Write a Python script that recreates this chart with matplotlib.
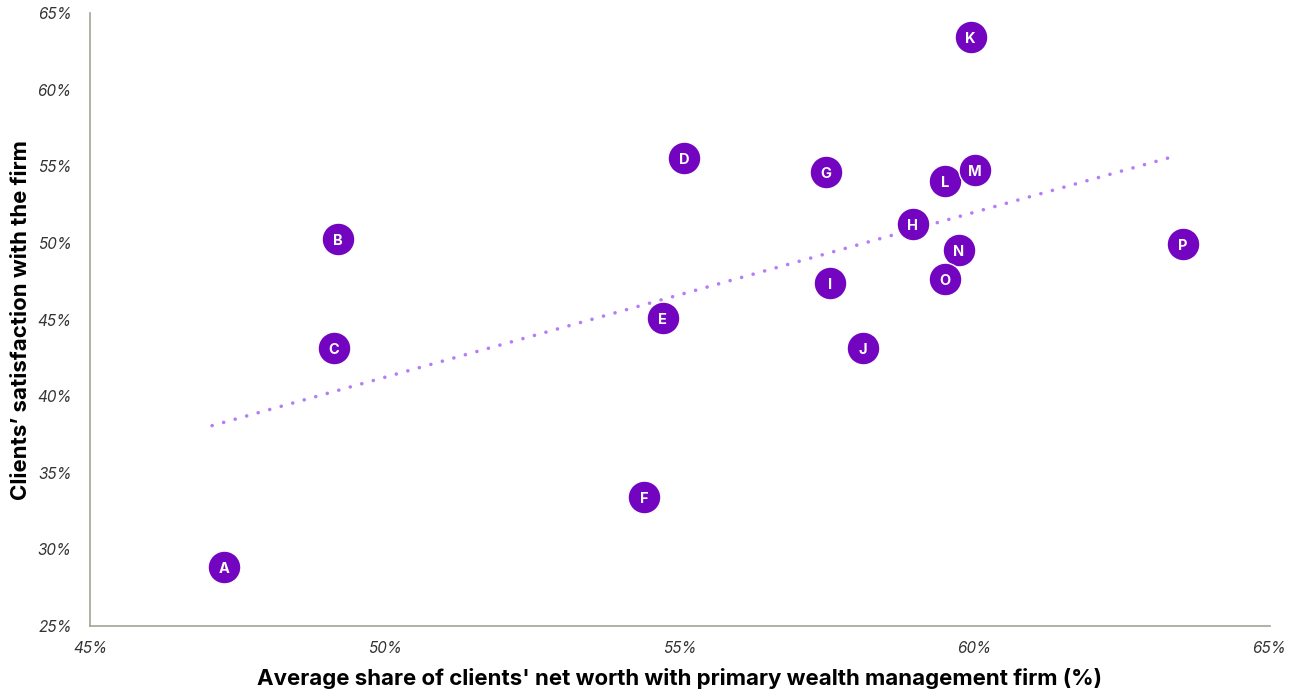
import numpy as np
import matplotlib.pyplot as plt
from matplotlib.ticker import FuncFormatter

# firms and their positions (share of net worth %, satisfaction %)
labels = ['A', 'B', 'C', 'D', 'E', 'F', 'G', 'H', 'I', 'J', 'K', 'L', 'M', 'N', 'O', 'P']
share = [47.27, 49.2, 49.14, 55.07, 54.71, 54.39, 57.47, 58.95, 57.54, 58.1,
         59.93, 59.49, 60.0, 59.73, 59.49, 63.53]
satisfaction = [28.85, 50.25, 43.13, 55.53, 45.09, 33.41, 54.62, 51.22, 47.37, 43.13,
                63.42, 54.03, 54.75, 49.53, 47.64, 49.92]

plt.rcParams['font.family'] = ['Inter', 'DejaVu Sans']

fig = plt.figure(figsize=(13.01, 6.94), dpi=100)
ax = fig.add_axes([0.0692, 0.098, 0.9068, 0.883])

# linear trend line across the range of the data
x = np.array(share)
y = np.array(satisfaction)
slope, icpt = np.polyfit(x, y, 1)
xs = np.array([x.min() - 0.2, x.max() - 0.1])
ax.plot(xs, slope * xs + icpt, color='#b57cf7', lw=2.6,
        linestyle=(0, (0.01, 3.3)), dash_capstyle='round', zorder=1)

ax.scatter(share, satisfaction, s=560, color='#7304bf', edgecolors='white',
           linewidths=1, zorder=2)
for lab, sx, sy in zip(labels, share, satisfaction):
    ax.text(sx, sy, lab, color='white', fontsize=10.5, fontweight='bold',
            ha='center', va='center_baseline', zorder=3)

ax.set_xlim(45, 65)
ax.set_ylim(25, 65)
ax.set_xticks(np.arange(45, 66, 5))
ax.set_yticks(np.arange(25, 66, 5))
pct = FuncFormatter(lambda v, p: '%d%%' % v)
ax.xaxis.set_major_formatter(pct)
ax.yaxis.set_major_formatter(pct)
ax.tick_params(length=0, labelsize=11, labelcolor='#333333')
ax.tick_params(axis='x', pad=10.5)
ax.tick_params(axis='y', pad=13)
for t in ax.get_xticklabels() + ax.get_yticklabels():
    t.set_fontstyle('italic')

for side in ['top', 'right']:
    ax.spines[side].set_visible(False)
for side in ['left', 'bottom']:
    ax.spines[side].set_color('#a3a395')
    ax.spines[side].set_linewidth(1.2)

ax.set_xlabel("Average share of clients' net worth with primary wealth management firm (%)",
              fontsize=16, fontweight='bold', labelpad=9)
ax.set_ylabel("Clients\u2019 satisfaction with the firm",
              fontsize=16, fontweight='bold', labelpad=5)

fig.savefig('out.png', dpi=100)
